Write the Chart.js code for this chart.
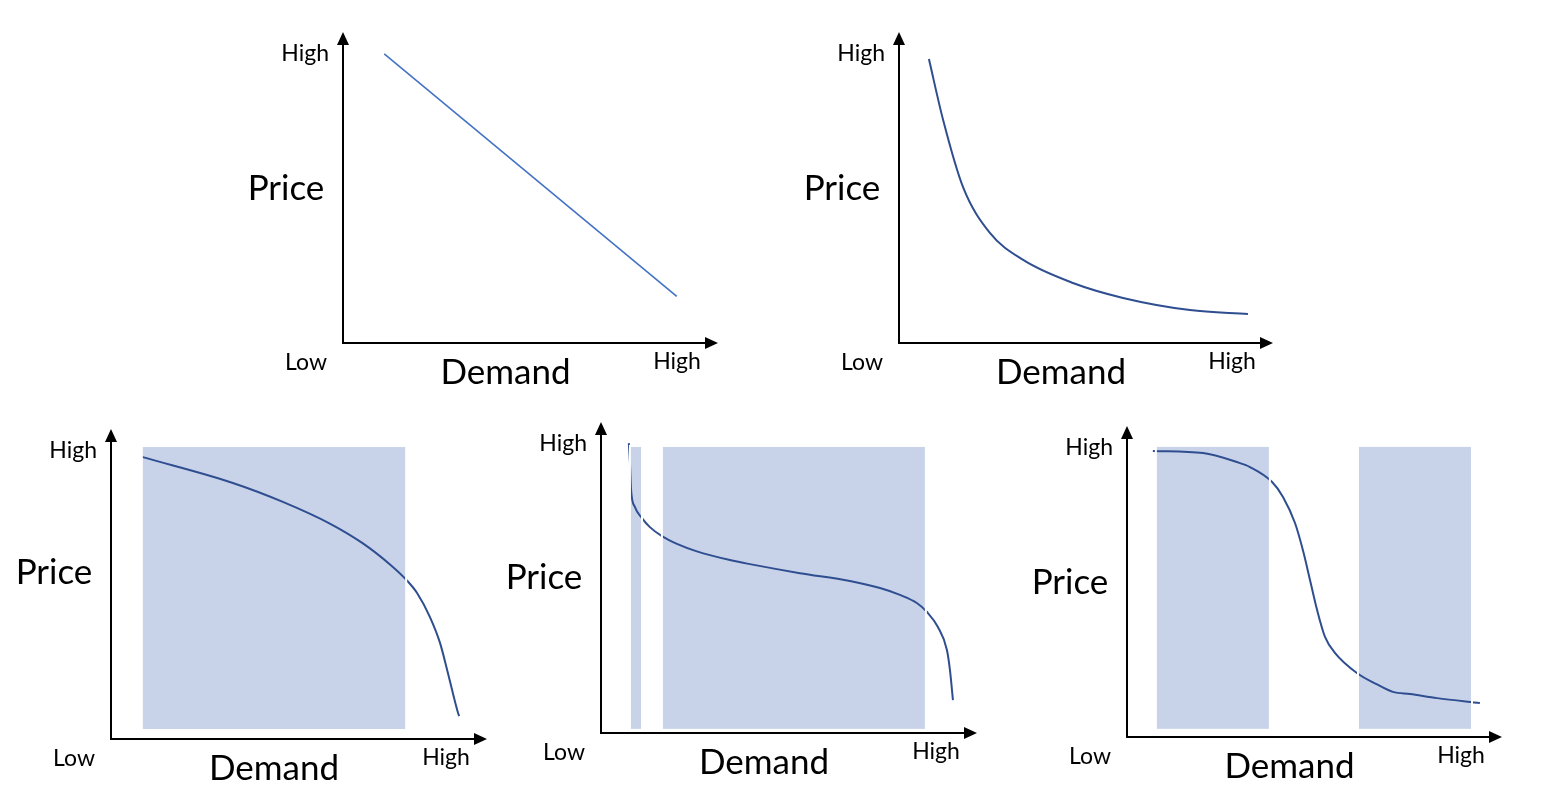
<!DOCTYPE html>
<html lang="en">
<head>
<meta charset="UTF-8">
<title>Price vs Demand curves</title>
<script src="https://cdn.jsdelivr.net/npm/chart.js"></script>
<style>
    body { margin: 0; background: #ffffff; overflow: hidden; }
    .stage { position: relative; width: 1548px; height: 796px; }
    .stage canvas { position: absolute; left: 0; top: 0; }
</style>
</head>
<body>
<div class="stage">
    <canvas id="c1" width="1548" height="796"></canvas>
    <canvas id="c2" width="1548" height="796"></canvas>
    <canvas id="c3" width="1548" height="796"></canvas>
    <canvas id="c4" width="1548" height="796"></canvas>
    <canvas id="c5" width="1548" height="796"></canvas>
</div>
<script>
// axis text
const lowLabel = 'Low';
const highLabel = 'High';
const yTitle = 'Price';
const xTitle = 'Demand';

// curves, demand (x) and price (y) on a 0-100 Low..High scale
const linearX = [11, 89];
const linearY = [93, 15];

const hyperX = [8, 11.8, 17.1, 24.3, 33.2, 46.5, 59.9, 77.8, 93.3];
const hyperY = [91.3, 71.7, 50.2, 35.4, 26.7, 19.3, 14.5, 10.6, 9.3];

const concaveX = [8.2, 32.4, 45.7, 58.2, 67.0, 74.2, 78.5, 81.4, 84.8, 87.5, 89.6, 92.3, 92.6];
const concaveY = [91.0, 82.6, 76.5, 69.5, 63.1, 56.3, 51.4, 47.1, 39.4, 31.0, 21.3, 8.4, 7.4];

const plateauX = [7.4, 7.7, 8.0, 9.0, 10.9, 13.0, 16.2, 20.2, 25.5, 34.3, 39.6, 52.9, 66.2, 74.2, 79.5, 84.0, 86.7, 89.6, 92.0, 92.8, 93.6];
const plateauY = [93.2, 86.8, 78.1, 72.7, 69.1, 66.2, 63.3, 60.8, 58.4, 55.6, 54.3, 51.4, 48.9, 46.6, 44.4, 41.8, 38.9, 34.1, 26.7, 20.3, 10.6];

const stepX = [6.9, 20.3, 29.3, 32.8, 38.7, 41.6, 44.8, 46.9, 48.8, 50.7, 52.8, 55.5, 61.3, 66.7, 70.9, 75.5, 82.7, 94.1];
const stepY = [92.0, 91.3, 88.4, 86.8, 82.0, 77.2, 68.8, 60.1, 50.5, 40.8, 32.2, 27.0, 20.6, 16.9, 14.5, 13.8, 12.5, 10.9];

// shaded demand bands [from, to] and their price span [top, bottom]
const concaveBands = [[8.2, 78.5]];
const concaveBandY = [94.5, 2.9];
const plateauBands = [[7.7, 10.9], [16.2, 86.4]];
const plateauBandY = [92.3, 1.0];
const stepBands = [[7.7, 38.1], [61.6, 92.0]];
const stepBandY = [93.6, 2.3];

const LIGHT = '#4472C4';
const DARK = '#2F4E90';
const BAND = '#C8D3EA';
const FONT = 'Lato, "Open Sans", sans-serif';

function zip(xs, ys) {
    return xs.map((x, i) => ({ x: x, y: ys[i] }));
}

// page placement of each little chart: axis origin and arrow tips
const panels = [
    { id: 'c1', origin: [343, 343], tip: [718, 32], xs: linearX, ys: linearY, color: LIGHT, width: 1.6, tension: 0, bands: [], bandY: null, priceDy: 1 },
    { id: 'c2', origin: [899, 343], tip: [1273, 32], xs: hyperX, ys: hyperY, color: DARK, width: 2, tension: 0.4, bands: [], bandY: null, priceDy: 1 },
    { id: 'c3', origin: [111, 739], tip: [487, 429], xs: concaveX, ys: concaveY, color: DARK, width: 2, tension: 0.4, bands: concaveBands, bandY: concaveBandY, priceDy: -11 },
    { id: 'c4', origin: [601, 733], tip: [977, 422], xs: plateauX, ys: plateauY, color: DARK, width: 2, tension: 0.4, bands: plateauBands, bandY: plateauBandY, priceDy: 0 },
    { id: 'c5', origin: [1127, 737], tip: [1502, 426], xs: stepX, ys: stepY, color: DARK, width: 2, tension: 0.4, bands: stepBands, bandY: stepBandY, priceDy: 1 }
];

function bandRects(chart, p) {
    const sx = chart.scales.x, sy = chart.scales.y;
    return p.bands.map(b => {
        const x0 = sx.getPixelForValue(b[0]), x1 = sx.getPixelForValue(b[1]);
        const y0 = sy.getPixelForValue(p.bandY[0]), y1 = sy.getPixelForValue(p.bandY[1]);
        return [x0, y0, x1 - x0, y1 - y0];
    });
}

const sketchPlugin = {
    id: 'sketch',
    beforeDatasetsDraw(chart, args, opts) {
        const p = opts.panel, ctx = chart.ctx;
        ctx.save();
        ctx.fillStyle = BAND;
        bandRects(chart, p).forEach(r => ctx.fillRect(r[0], r[1], r[2], r[3]));
        ctx.restore();
    },
    afterDatasetsDraw(chart, args, opts) {
        const p = opts.panel, ctx = chart.ctx;
        const a = chart.chartArea;
        ctx.save();
        // thin white outline on the bands, it cuts the curve where it crosses
        ctx.strokeStyle = '#ffffff';
        ctx.lineWidth = 2;
        bandRects(chart, p).forEach(r => ctx.strokeRect(r[0], r[1], r[2], r[3]));

        // axes with arrow heads
        ctx.strokeStyle = '#000000';
        ctx.fillStyle = '#000000';
        ctx.lineWidth = 2;
        ctx.beginPath();
        ctx.moveTo(a.left, a.top + 10);
        ctx.lineTo(a.left, a.bottom);
        ctx.lineTo(a.right - 10, a.bottom);
        ctx.stroke();
        ctx.beginPath();
        ctx.moveTo(a.left, a.top);
        ctx.lineTo(a.left - 6, a.top + 13);
        ctx.lineTo(a.left + 6, a.top + 13);
        ctx.closePath();
        ctx.fill();
        ctx.beginPath();
        ctx.moveTo(a.right, a.bottom);
        ctx.lineTo(a.right - 13, a.bottom - 6);
        ctx.lineTo(a.right - 13, a.bottom + 6);
        ctx.closePath();
        ctx.fill();

        // labels
        ctx.textBaseline = 'middle';
        ctx.font = '23px ' + FONT;
        ctx.textAlign = 'right';
        ctx.fillText(highLabel, a.left - 14, a.top + 22);
        ctx.textAlign = 'center';
        ctx.fillText(lowLabel, a.left - 37, a.bottom + 20);
        ctx.fillText(highLabel, a.right - 41, a.bottom + 19);
        ctx.font = '35px ' + FONT;
        ctx.fillText(yTitle, a.left - 57, (a.top + a.bottom) / 2 + p.priceDy);
        ctx.fillText(xTitle, (a.left + a.right) / 2 - 25, a.bottom + 30);
        ctx.restore();
    }
};

panels.forEach(p => {
    new Chart(document.getElementById(p.id), {
        type: 'line',
        data: {
            datasets: [{
                data: zip(p.xs, p.ys),
                borderColor: p.color,
                borderWidth: p.width,
                pointRadius: 0,
                tension: p.tension,
                cubicInterpolationMode: p.tension ? 'monotone' : 'default',
                fill: false
            }]
        },
        options: {
            responsive: false,
            animation: false,
            layout: {
                padding: {
                    left: p.origin[0],
                    top: p.tip[1],
                    right: 1548 - p.tip[0],
                    bottom: 796 - p.origin[1]
                }
            },
            scales: {
                x: { type: 'linear', min: 0, max: 100, display: false },
                y: { type: 'linear', min: 0, max: 100, display: false }
            },
            plugins: {
                legend: { display: false },
                tooltip: { enabled: false },
                sketch: { panel: p }
            },
            events: []
        },
        plugins: [sketchPlugin]
    });
});
</script>
</body>
</html>
